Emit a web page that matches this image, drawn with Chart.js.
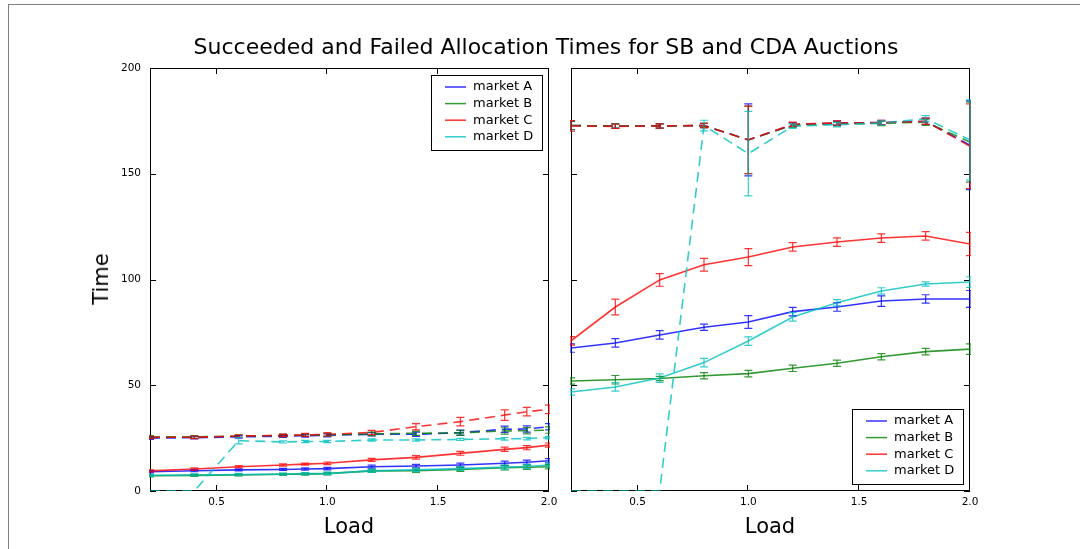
<!DOCTYPE html>
<html>
<head>
<meta charset="utf-8">
<script src="https://cdn.jsdelivr.net/npm/chart.js@4.4.0/dist/chart.umd.min.js"></script>
<style>
body { margin: 0; background: #fff; width: 1080px; height: 549px; overflow: hidden; position: relative; font-family: "DejaVu Sans", sans-serif; color: #000; }
#frame { position: absolute; left: 8px; top: 4px; width: 1100px; height: 600px; border-left: 1px solid #808080; border-top: 1px solid #808080; }
.lbl { position: absolute; transform: translate(-50%, -50%); white-space: nowrap; }
#title { left: 546px; top: 46px; font-size: 22px; }
#ylab { left: 101px; top: 279px; font-size: 21px; transform: translate(-50%, -50%) rotate(-90deg); }
#xlab1 { left: 349px; top: 526px; font-size: 21px; }
#xlab2 { left: 770px; top: 526px; font-size: 21px; }
#leftBox { position: absolute; left: 0; top: 0; width: 560px; height: 549px; }
#rightBox { position: absolute; left: 560px; top: 0; width: 520px; height: 549px; }
</style>
</head>
<body>
<div id="frame"></div>
<div id="leftBox"><canvas id="leftChart" width="560" height="549"></canvas></div>
<div id="rightBox"><canvas id="rightChart" width="520" height="549"></canvas></div>
<div class="lbl" id="title">Succeeded and Failed Allocation Times for SB and CDA Auctions</div>
<div class="lbl" id="ylab">Time</div>
<div class="lbl" id="xlab1">Load</div>
<div class="lbl" id="xlab2">Load</div>
<script>
// axis ticks
var loadTicks = [0.5, 1.0, 1.5, 2.0];
var timeTicks = [0, 50, 100, 150, 200];
var markets = ['market A', 'market B', 'market C', 'market D'];

// left panel (SB)
var leftLoad = [0.2, 0.4, 0.6, 0.8, 0.9, 1.0, 1.2, 1.4, 1.6, 1.8, 1.9, 2.0];
var leftOkA = [9.1, 9.6, 10.0, 10.2, 10.4, 10.6, 11.5, 11.8, 12.3, 13.1, 13.6, 14.3];
var leftOkB = [7.2, 7.4, 7.6, 7.9, 8.0, 8.2, 9.5, 9.6, 10.2, 11.0, 11.2, 11.5];
var leftOkC = [9.5, 10.4, 11.5, 12.3, 12.7, 13.1, 14.7, 15.9, 17.8, 19.7, 20.5, 21.7];
var leftOkD = [7.4, 7.6, 7.8, 8.0, 8.2, 8.3, 9.5, 10.0, 10.6, 11.3, 11.6, 12.3];
var leftFailA = [25.0, 25.2, 25.6, 25.9, 26.1, 26.3, 26.8, 26.8, 27.6, 29.2, 29.3, 30.4];
var leftFailB = [25.6, 25.6, 26.0, 26.3, 26.4, 26.6, 27.0, 27.3, 27.5, 28.4, 28.5, 28.8];
var leftFailC = [25.4, 25.4, 26.0, 26.3, 26.5, 26.8, 27.7, 30.4, 32.8, 35.9, 37.5, 38.6];
var leftFailD = [0, 0, 23.8, 23.2, 23.4, 23.4, 24.1, 24.1, 24.4, 24.7, 24.8, 25.2];
var leftOkErr = [0.5, 0.5, 0.5, 0.5, 0.5, 0.6, 0.7, 0.8, 0.9, 1.0, 1.0, 1.0];
var leftFailErrA = [0.6, 0.6, 0.6, 0.6, 0.6, 0.7, 0.8, 1.0, 1.2, 1.5, 1.5, 1.5];
var leftFailErrC = [0.6, 0.6, 0.6, 0.6, 0.7, 0.8, 1.0, 1.5, 2.0, 2.5, 2.0, 2.0];
var leftFailErrD = [0, 0, 1.5, 0.5, 0.5, 0.5, 0.5, 0.5, 0.5, 0.6, 0.6, 0.6];

// right panel (CDA)
var rightLoad = [0.2, 0.4, 0.6, 0.8, 1.0, 1.2, 1.4, 1.6, 1.8, 2.0];
var rightOkA = [67.6, 70.0, 73.8, 77.4, 79.9, 84.8, 87.0, 89.8, 90.8, 90.8];
var rightOkB = [52.0, 52.6, 53.2, 54.5, 55.5, 58.0, 60.4, 63.5, 65.9, 67.1];
var rightOkC = [71.0, 87.0, 99.8, 107.0, 110.6, 115.4, 117.7, 119.6, 120.6, 116.8];
var rightOkD = [46.8, 49.2, 53.4, 60.7, 70.9, 82.3, 89.0, 94.6, 97.9, 98.8];
var rightOkErrA = [2, 2, 2, 1.5, 3, 2, 2, 2.5, 2, 4];
var rightOkErrB = [1.5, 2, 1, 1.5, 1.5, 1.5, 1.5, 1.5, 1.5, 2.5];
var rightOkErrC = [2, 3.7, 3, 3, 4, 2, 2, 2, 2, 5.5];
var rightOkErrD = [1.5, 2, 2, 2, 2, 2, 1.5, 1.5, 1, 2.5];
var rightFailA = [172.8, 172.6, 172.6, 172.8, 166.0, 173.2, 174.0, 174.2, 174.8, 163.5];
var rightFailB = [172.8, 172.6, 172.6, 172.8, 166.0, 173.0, 173.6, 173.8, 174.4, 165.0];
var rightFailC = [172.6, 172.4, 172.6, 172.8, 166.0, 173.4, 174.0, 174.2, 174.8, 163.0];
var rightFailD = [0, 0, 0, 172.8, 159.5, 172.5, 173.2, 174.0, 176.0, 166.0];
var rightFailErrA = [2, 1, 1, 1, 17, 1, 1, 1, 1.5, 21];
var rightFailErrB = [2, 1, 1, 1, 16, 1, 1, 1, 1.5, 19];
var rightFailErrC = [2.5, 1, 1, 1, 16, 1, 1, 1, 1.5, 20];
var rightFailErrD = [0, 0, 0, 2.5, 20, 1, 1, 1, 1.5, 19];

var colors = ['rgba(0,0,255,0.8)', 'rgba(0,128,0,0.8)', 'rgba(255,0,0,0.8)', 'rgba(0,191,191,0.8)'];
var FONT = '"DejaVu Sans", sans-serif';

function pts(xs, ys) {
    return xs.map(function (x, i) { return {x: x, y: ys[i]}; });
}

function series(xs, ys, errs, color, dashed, label) {
    return {
        label: label || '',
        data: pts(xs, ys),
        errors: errs,
        borderColor: color,
        backgroundColor: color,
        borderWidth: 1.6,
        borderDash: dashed ? [10, 6] : [],
        pointRadius: 0,
        tension: 0,
        fill: false
    };
}

// error bars with caps, through the chart scales
const errorBars = {
    id: 'errorBars',
    afterDatasetsDraw(chart) {
        const ctx = chart.ctx, a = chart.chartArea;
        const x = chart.scales.x, y = chart.scales.y;
        ctx.save();
        ctx.beginPath();
        ctx.rect(a.left - 1, a.top - 1, a.width + 2, a.height + 2);
        ctx.clip();
        chart.data.datasets.forEach(function (ds) {
            if (!ds.errors) return;
            ctx.strokeStyle = ds.borderColor;
            ctx.lineWidth = 1.2;
            ds.data.forEach(function (p, j) {
                const e = ds.errors[j];
                if (!e) return;
                const px = x.getPixelForValue(p.x);
                const y1 = y.getPixelForValue(p.y - e), y2 = y.getPixelForValue(p.y + e);
                ctx.beginPath();
                ctx.moveTo(px, y1); ctx.lineTo(px, y2);
                ctx.moveTo(px - 4, y1); ctx.lineTo(px + 4, y1);
                ctx.moveTo(px - 4, y2); ctx.lineTo(px + 4, y2);
                ctx.stroke();
            });
        });
        ctx.restore();
    }
};

// box around the axes and inward tick marks (under the lines), boxed legend on top
const frame = {
    id: 'frame',
    beforeDatasetsDraw(chart) {
        const ctx = chart.ctx, a = chart.chartArea;
        const x = chart.scales.x, y = chart.scales.y;
        ctx.save();
        ctx.strokeStyle = '#000';
        ctx.lineWidth = 1;
        ctx.strokeRect(Math.round(a.left) + 0.5, Math.round(a.top) + 0.5, Math.round(a.width) - 1, Math.round(a.height) - 1);
        ctx.beginPath();
        loadTicks.forEach(function (v) {
            const px = Math.round(x.getPixelForValue(v)) - 0.5;
            ctx.moveTo(px, a.bottom); ctx.lineTo(px, a.bottom - 6);
            ctx.moveTo(px, a.top); ctx.lineTo(px, a.top + 6);
        });
        timeTicks.forEach(function (v) {
            const py = Math.round(y.getPixelForValue(v)) + 0.5;
            ctx.moveTo(a.left, py); ctx.lineTo(a.left + 6, py);
            ctx.moveTo(a.right, py); ctx.lineTo(a.right - 6, py);
        });
        ctx.stroke();
        ctx.restore();
    },
    afterDraw(chart) {
        const ctx = chart.ctx, a = chart.chartArea;
        const pos = chart.options.plugins.boxLegend;
        const w = 111, h = 75;
        const bx = Math.round(a.right - 7 - w);
        const by = pos.where === 'top' ? Math.round(a.top + 7) : Math.round(a.bottom - 7 - h);
        ctx.save();
        ctx.fillStyle = '#fff';
        ctx.fillRect(bx, by, w, h);
        ctx.strokeStyle = '#000';
        ctx.lineWidth = 1;
        ctx.strokeRect(bx + 0.5, by + 0.5, w, h);
        ctx.font = '13px ' + FONT;
        ctx.textBaseline = 'middle';
        ctx.textAlign = 'left';
        markets.forEach(function (m, i) {
            const ry = by + 12 + i * 16.6;
            ctx.strokeStyle = colors[i];
            ctx.lineWidth = 1.5;
            ctx.beginPath();
            ctx.moveTo(bx + 14, ry); ctx.lineTo(bx + 35, ry);
            ctx.stroke();
            ctx.fillStyle = '#000';
            ctx.fillText(m, bx + 42, ry);
        });
        ctx.restore();
    }
};

function options(isLeft) {
    return {
        responsive: false,
        animation: false,
        layout: {padding: {top: 68, right: isLeft ? 11 : 110, left: 0, bottom: 0}},
        plugins: {
            legend: {display: false},
            tooltip: {enabled: false},
            boxLegend: {where: isLeft ? 'top' : 'bottom'}
        },
        scales: {
            x: {
                type: 'linear', min: 0.2, max: 2.0,
                grid: {display: false, drawTicks: false},
                border: {display: false},
                afterBuildTicks: function (s) { s.ticks = loadTicks.map(function (v) { return {value: v}; }); },
                afterFit: function (s) { s.height = 58; s.paddingLeft = 0; s.paddingRight = 0; },
                ticks: {
                    callback: function (v) { return v.toFixed(1); },
                    maxRotation: 0, autoSkip: false, padding: 5,
                    color: '#000', font: {family: FONT, size: 10.5}
                }
            },
            y: {
                type: 'linear', min: 0, max: 200,
                grid: {display: false, drawTicks: false},
                border: {display: false},
                afterBuildTicks: function (s) { s.ticks = timeTicks.map(function (v) { return {value: v}; }); },
                afterFit: function (s) { s.width = isLeft ? 150 : 11; s.paddingTop = 0; s.paddingBottom = 0; },
                ticks: {
                    display: isLeft, padding: 9,
                    color: '#000', font: {family: FONT, size: 10.5}
                }
            }
        }
    };
}

function withOrder(list) {
    list.forEach(function (d, i) { d.order = list.length - i; });
    return list;
}

var leftSets = withOrder([
    series(leftLoad, leftOkA, leftOkErr, colors[0], false, markets[0]),
    series(leftLoad, leftOkB, leftOkErr, colors[1], false, markets[1]),
    series(leftLoad, leftOkC, leftOkErr, colors[2], false, markets[2]),
    series(leftLoad, leftOkD, leftOkErr, colors[3], false, markets[3]),
    series(leftLoad, leftFailA, leftFailErrA, colors[0], true),
    series(leftLoad, leftFailB, leftFailErrA, colors[1], true),
    series(leftLoad, leftFailC, leftFailErrC, colors[2], true),
    series(leftLoad, leftFailD, leftFailErrD, colors[3], true)
]);

var rightSets = withOrder([
    series(rightLoad, rightOkA, rightOkErrA, colors[0], false, markets[0]),
    series(rightLoad, rightOkB, rightOkErrB, colors[1], false, markets[1]),
    series(rightLoad, rightOkC, rightOkErrC, colors[2], false, markets[2]),
    series(rightLoad, rightOkD, rightOkErrD, colors[3], false, markets[3]),
    series(rightLoad, rightFailA, rightFailErrA, colors[0], true),
    series(rightLoad, rightFailB, rightFailErrB, colors[1], true),
    series(rightLoad, rightFailC, rightFailErrC, colors[2], true),
    series(rightLoad, rightFailD, rightFailErrD, colors[3], true)
]);

new Chart(document.getElementById('leftChart'), {
    type: 'line',
    data: {datasets: leftSets},
    options: options(true),
    plugins: [errorBars, frame]
});

new Chart(document.getElementById('rightChart'), {
    type: 'line',
    data: {datasets: rightSets},
    options: options(false),
    plugins: [errorBars, frame]
});
</script>
</body>
</html>
